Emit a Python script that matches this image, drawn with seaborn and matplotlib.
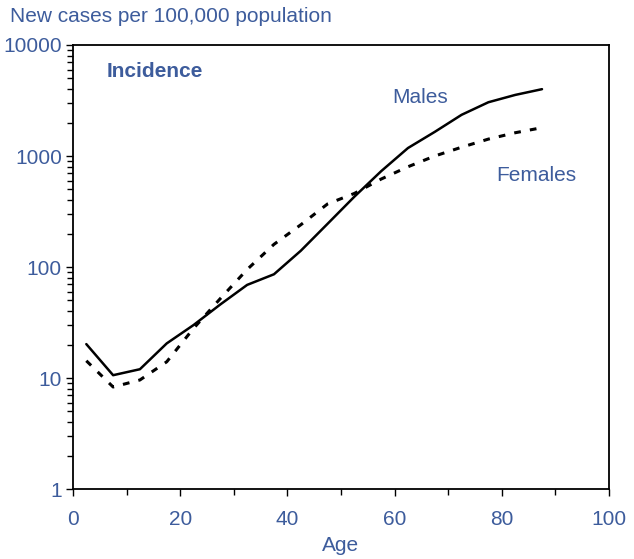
import matplotlib
matplotlib.use("Agg")
import matplotlib.pyplot as plt
import matplotlib.ticker as mticker
import seaborn as sns
import pandas as pd

ages = [2.5, 7.5, 12.5, 17.5, 22.5, 27.5, 32.5, 37.5, 42.5, 47.5, 52.5, 57.5,
        62.5, 67.5, 72.5, 77.5, 82.5, 87.5]
males = [20.2, 10.6, 12.0, 20.5, 30, 46, 69, 86, 140, 245, 430, 730,
         1180, 1650, 2350, 3050, 3550, 4000]
females = [14.3, 8.3, 9.6, 14.0, 28, 52, 95, 160, 240, 370, 460, 620,
           800, 1000, 1200, 1420, 1620, 1800]

x_ticks = [0, 20, 40, 60, 80, 100]
y_ticks = [1, 10, 100, 1000, 10000]
y_tick_labels = ["1", "10", "100", "1000", "10000"]

BLUE = "#3d5c9c"

sns.set_style("white")
plt.rcParams["font.family"] = ["Liberation Sans", "DejaVu Sans"]

df = pd.DataFrame({
    "Age": ages * 2,
    "Rate": males + females,
    "Sex": ["Males"] * len(ages) + ["Females"] * len(ages),
})

fig = plt.figure(figsize=(6.34, 5.59), dpi=100)
ax = fig.add_axes([0.115, 0.1252, 0.8456, 0.7943])

sns.lineplot(data=df[df.Sex == "Males"], x="Age", y="Rate", ax=ax,
             color="black", lw=1.8, legend=False)
sns.lineplot(data=df[df.Sex == "Females"], x="Age", y="Rate", ax=ax,
             color="black", lw=2.2, linestyle=(0, (2.2, 3.0)), legend=False)

ax.set_yscale("log")
ax.set_ylim(1, 10000)
ax.set_xlim(0, 100)
ax.set_xticks(x_ticks)
ax.xaxis.set_minor_locator(mticker.MultipleLocator(10))
ax.set_yticks(y_ticks)
ax.set_yticklabels(y_tick_labels)
ax.yaxis.set_minor_locator(mticker.LogLocator(base=10, subs=range(2, 10)))
ax.yaxis.set_minor_formatter(mticker.NullFormatter())

ax.tick_params(axis="both", which="both", left=True, bottom=True,
               direction="out", colors="black")
ax.tick_params(axis="both", which="major", length=5, width=1,
               labelcolor=BLUE, labelsize=15)
ax.tick_params(axis="x", which="major", pad=10)
ax.tick_params(axis="y", which="major", pad=3)
ax.tick_params(axis="both", which="minor", length=4, width=1)

for s in ax.spines.values():
    s.set_visible(True)
    s.set_color("black")
    s.set_linewidth(1.3)

ax.set_xlabel("Age", color=BLUE, fontsize=15, labelpad=5)
ax.set_ylabel("")

fig.text(10 / 634, 1 - 17 / 559, "New cases per 100,000 population",
         color=BLUE, fontsize=15, ha="left", va="center")
ax.text(0.063, 0.94, "Incidence", transform=ax.transAxes, color=BLUE,
        fontsize=15, fontweight="bold", ha="left", va="center")
ax.text(0.595, 0.882, "Males", transform=ax.transAxes, color=BLUE,
        fontsize=15, ha="left", va="center")
ax.text(0.79, 0.706, "Females", transform=ax.transAxes, color=BLUE,
        fontsize=15, ha="left", va="center")

fig.savefig("out.png", dpi=100)
